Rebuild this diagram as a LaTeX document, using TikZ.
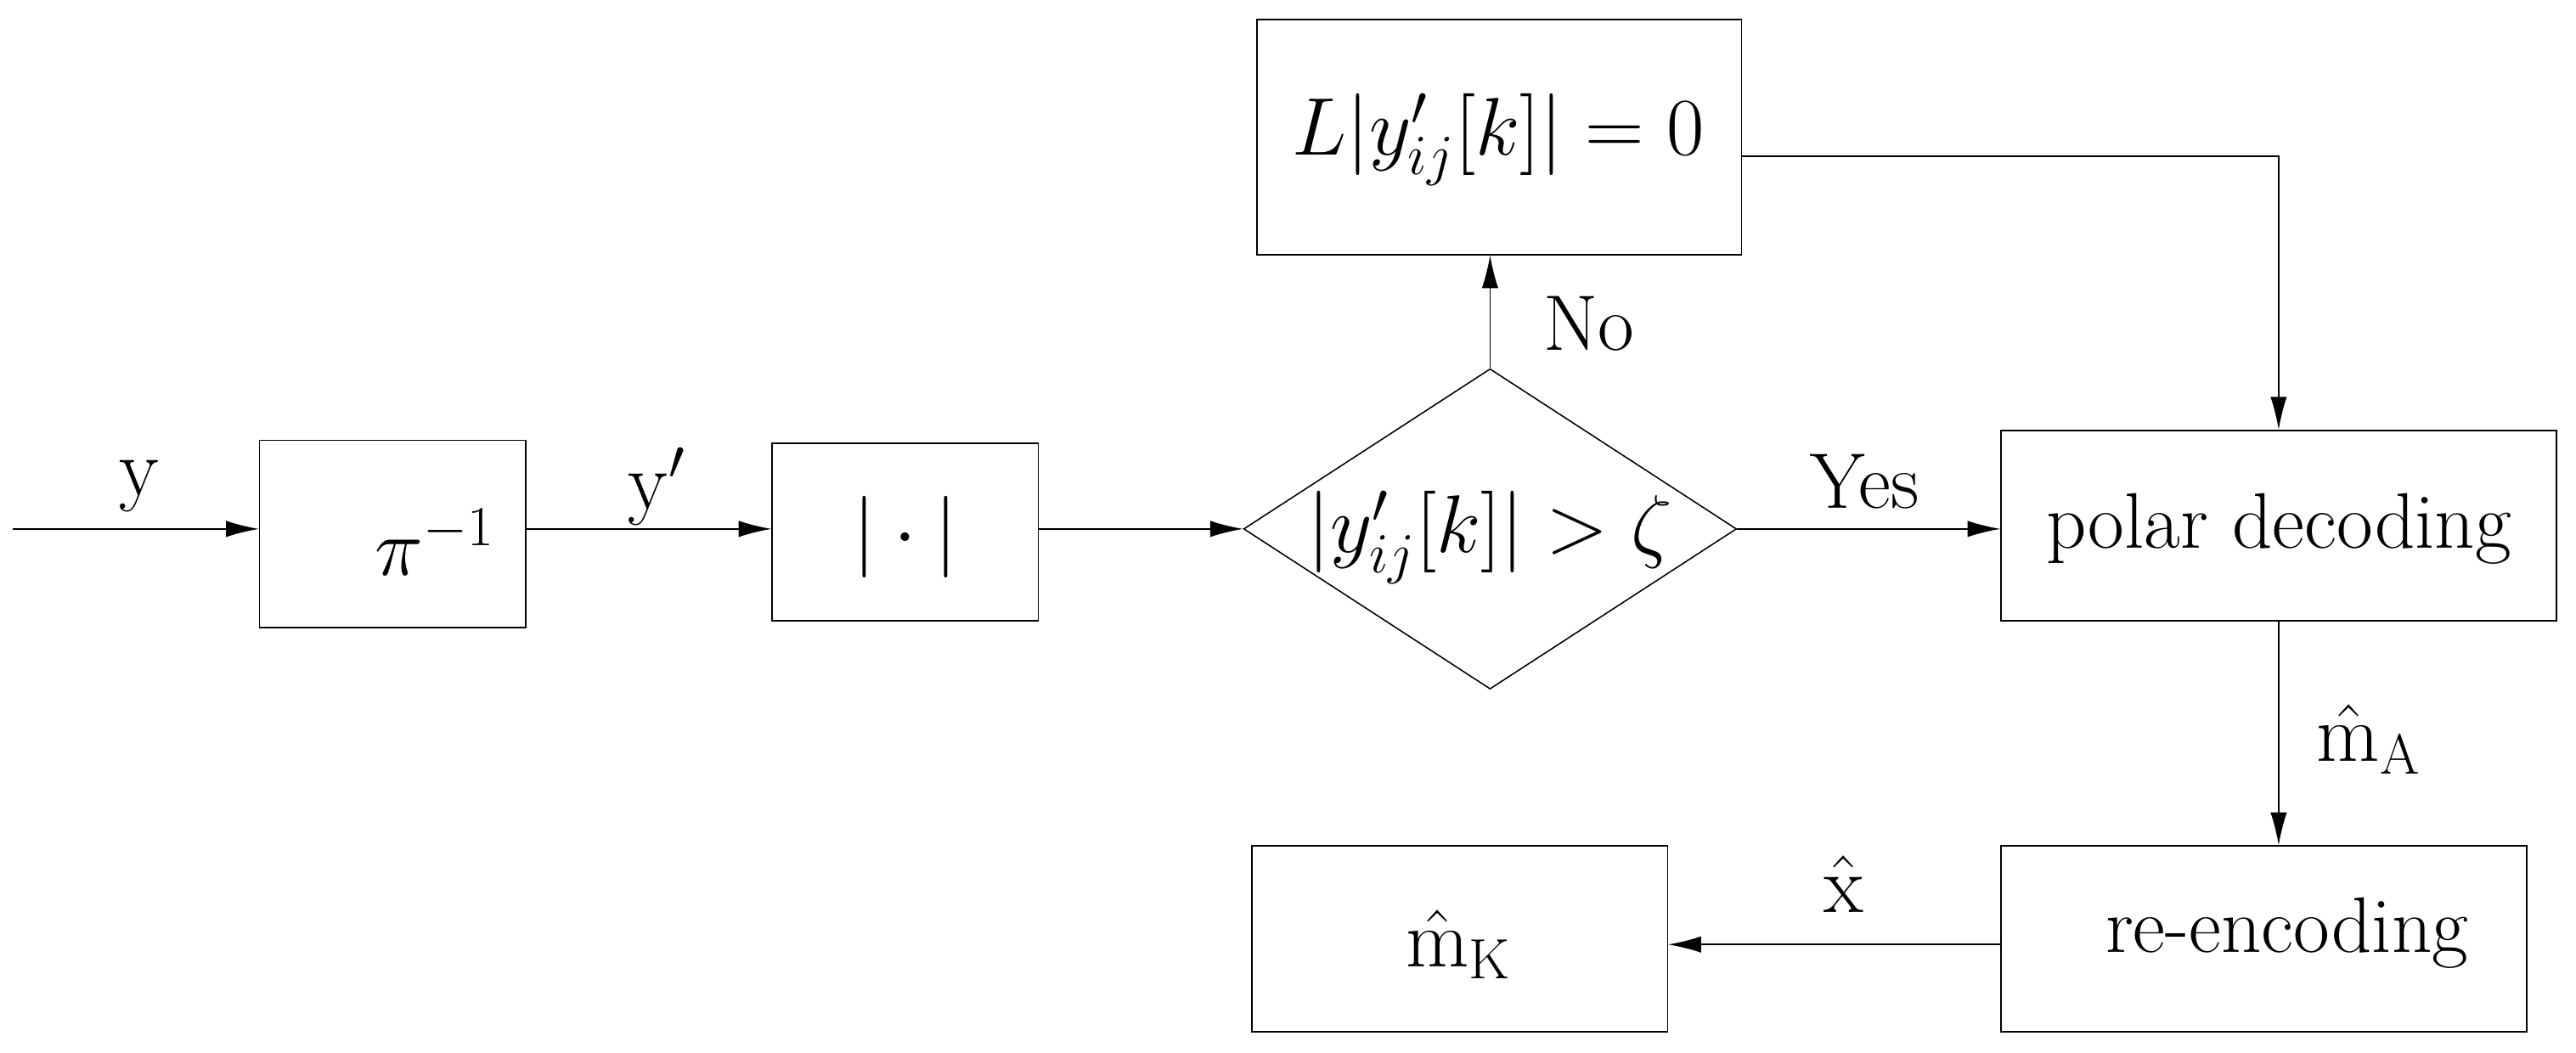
\documentclass[tikz,border=0pt]{standalone}
\usetikzlibrary{arrows.meta,shapes.geometric}
\begin{document}
\begin{tikzpicture}[x=0.5pt,y=-0.5pt,
  box/.style={draw,thin,inner sep=0pt},
  arr/.style={-{Latex[length=10pt,width=5pt]},thin},
  lbl/.style={font=\fontsize{24}{28}\selectfont}]
\useasboundingbox (0,0) rectangle (1568,641);
\node[box,minimum width=81pt,minimum height=57pt] (pi) at (239,325) {};
\node[lbl] at (265,330) {$\pi^{-1}$};
\node[box,minimum width=81pt,minimum height=54pt] (abs) at (551,324) {};
\node[lbl] at (551,327) {$|\cdot|$};
\node[draw,thin,diamond,minimum width=150pt,minimum height=97.5pt,inner sep=0pt] (dia) at (907,322) {};
\node[lbl] at (907,327) {$|y'_{ij}[k]|>\zeta$};
\node[box,minimum width=147.5pt,minimum height=71.5pt] (L) at (912.5,83.5) {};
\node[lbl] at (912,85) {$L|y'_{ij}[k]|=0$};
\node[box,minimum width=169pt,minimum height=58pt] (pol) at (1387,320) {};
\node[lbl] at (1387,322) {polar decoding};
\node[box,minimum width=160pt,minimum height=56.5pt] (re) at (1378,571.5) {};
\node[lbl] at (1392,568) {re-encoding};
\node[box,minimum width=126.5pt,minimum height=56.5pt] (mk) at (888.5,571.5) {};
\node[lbl] at (888,575) {$\hat{\mathrm{m}}_{\mathrm{K}}$};
\coordinate (in) at (8,322);
\draw[arr] (in) -- (pi.west |- in);
\draw[arr] (pi.east |- in) -- (abs.west |- in);
\draw[arr] (abs.east |- in) -- (dia.west);
\draw[arr] (dia.east) -- (pol.west |- dia.east);
\draw[arr] (dia.north) -- (L.south -| dia.north);
\draw[arr] (L.east |- 0,95) -| (pol.north);
\draw[arr] (pol.south) -- (re.north -| pol.south);
\draw[arr] (re.west |- 0,575) -- (mk.east |- 0,575);
\node[lbl] at (85,296) {$\mathrm{y}$};
\node[lbl] at (400,296) {$\mathrm{y}'$};
\node[lbl] at (1135,293) {Yes};
\node[lbl] at (967,197) {No};
\node[lbl] at (1442,450) {$\hat{\mathrm{m}}_{\mathrm{A}}$};
\node[lbl] at (1122,538) {$\hat{\mathrm{x}}$};
\end{tikzpicture}
\end{document}
